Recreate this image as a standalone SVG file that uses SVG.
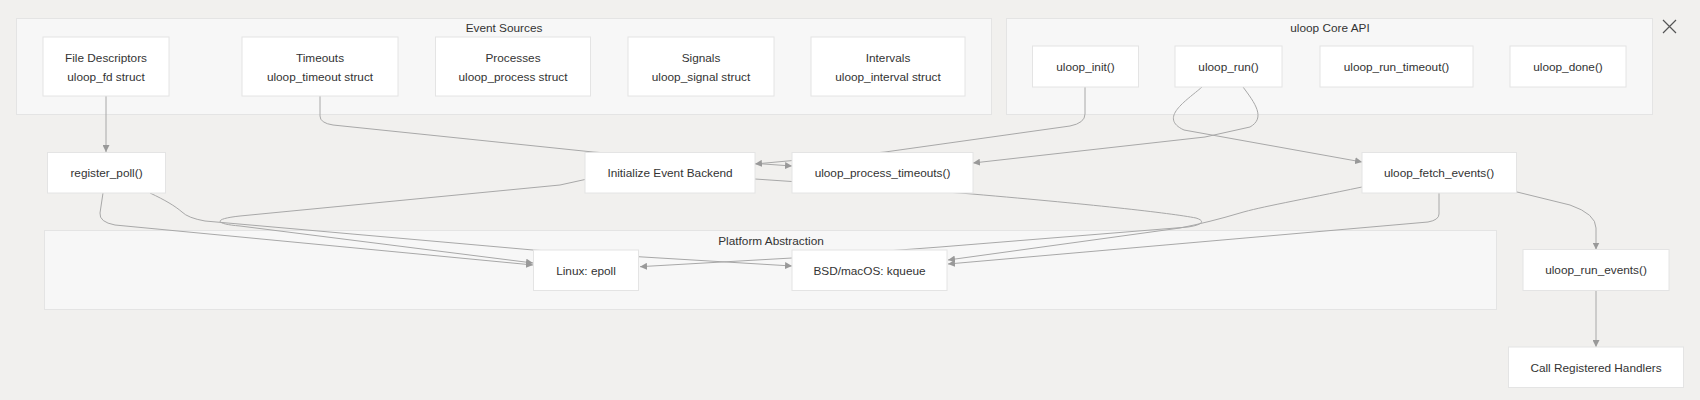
<svg xmlns="http://www.w3.org/2000/svg" width="1700" height="400" viewBox="0 0 1700 400">
<style>
.bg{fill:#f1f0ee}
.cl{fill:#f7f7f7;stroke:#e4e4e4;stroke-width:1}
.nd{fill:#ffffff;stroke:#e4e4e4;stroke-width:1}
.t{font-family:"Liberation Sans",Arial,sans-serif;font-size:11.8px;fill:#333333;text-anchor:middle}
.e{fill:none;stroke:#a8a8a8;stroke-width:1}
</style>
<defs>
<marker id="ah" viewBox="0 0 10 10" refX="10" refY="5" markerWidth="7" markerHeight="7" markerUnits="userSpaceOnUse" orient="auto">
<path d="M0,0 L10,5 L0,10 z" fill="#999999"/>
</marker>
</defs>
<rect class="bg" x="0" y="0" width="1700" height="400"/>

<g id="clusters">
<g id="cluster-event-sources">
<rect class="cl" x="16.5" y="18.5" width="975" height="96"/>
<text class="t" x="504" y="32">Event Sources</text>
</g>
<g id="cluster-core-api">
<rect class="cl" x="1006.5" y="18.5" width="646" height="96"/>
<text class="t" x="1330" y="32">uloop Core API</text>
</g>
<g id="cluster-platform">
<rect class="cl" x="44.5" y="230.5" width="1452" height="79"/>
<text class="t" x="771" y="245">Platform Abstraction</text>
</g>
</g>

<g id="connectors">
<path class="e" marker-end="url(#ah)" d="M106,96 L106,152"/>
<path class="e" marker-end="url(#ah)" d="M320,96 L320,116 Q320,123 333,125 L593,152 L792,166"/>
<path class="e" marker-end="url(#ah)" d="M1085,87 L1085,114 Q1085,123 1070,126 L885,152 L755,164"/>
<path class="e" marker-end="url(#ah)" d="M1243,87 C1255,103 1266,118 1250,127 L1205,137 L973,163"/>
<path class="e" marker-end="url(#ah)" d="M1202,87 C1186,101 1158,118 1184,130 L1362,162"/>
<path class="e" marker-end="url(#ah)" d="M103,193 L100,213 Q99,222 115,225 L533,265"/>
<path class="e" marker-end="url(#ah)" d="M150,193 C165,200 175,206 182,212 Q188,218 205,221 L533,250 L638,256.7 L792,266"/>
<path class="e" marker-end="url(#ah)" d="M585,179.5 L560,185 L240,216 C212,219 215,224 240,226 L533,263"/>
<path class="e" marker-end="url(#ah)" d="M755,179 L960,193 C1090,204 1170,213 1196,218 C1206,221 1202,225 1188,227 L940,247 L792,258 L640,266.7"/>
<path class="e" marker-end="url(#ah)" d="M1362,187 C1300,200 1260,207 1240,213 C1220,219 1200,224 1180,228 L948,260"/>
<path class="e" marker-end="url(#ah)" d="M1439,193 L1439,214 Q1439,220 1428,222 L948,264"/>
<path class="e" marker-end="url(#ah)" d="M1517,192 L1570,205 Q1596,214 1596,228 L1596,249.5"/>
<path class="e" marker-end="url(#ah)" d="M1596,290.5 L1596,347"/>
</g>

<g id="node-fd"><rect class="nd" x="43" y="37" width="126" height="59"/><text class="t" x="106" y="62">File Descriptors</text><text class="t" x="106" y="81">uloop_fd struct</text></g>
<g id="node-timeouts"><rect class="nd" x="242" y="37" width="156" height="59"/><text class="t" x="320" y="62">Timeouts</text><text class="t" x="320" y="81">uloop_timeout struct</text></g>
<g id="node-processes"><rect class="nd" x="435.5" y="37" width="155" height="59"/><text class="t" x="513" y="62">Processes</text><text class="t" x="513" y="81">uloop_process struct</text></g>
<g id="node-signals"><rect class="nd" x="628" y="37" width="146" height="59"/><text class="t" x="701" y="62">Signals</text><text class="t" x="701" y="81">uloop_signal struct</text></g>
<g id="node-intervals"><rect class="nd" x="811" y="37" width="154" height="59"/><text class="t" x="888" y="62">Intervals</text><text class="t" x="888" y="81">uloop_interval struct</text></g>

<g id="node-init"><rect class="nd" x="1032.5" y="46" width="106" height="41"/><text class="t" x="1085.5" y="70.5">uloop_init()</text></g>
<g id="node-run"><rect class="nd" x="1175" y="46" width="107" height="41"/><text class="t" x="1228.5" y="70.5">uloop_run()</text></g>
<g id="node-run-timeout"><rect class="nd" x="1320" y="46" width="153" height="41"/><text class="t" x="1396.5" y="70.5">uloop_run_timeout()</text></g>
<g id="node-done"><rect class="nd" x="1510" y="46" width="116" height="41"/><text class="t" x="1568" y="70.5">uloop_done()</text></g>

<g id="node-register-poll"><rect class="nd" x="47.5" y="152.5" width="118" height="40.5"/><text class="t" x="106.5" y="177">register_poll()</text></g>
<g id="node-init-backend"><rect class="nd" x="585" y="152.5" width="170" height="40.5"/><text class="t" x="670" y="177">Initialize Event Backend</text></g>
<g id="node-process-timeouts"><rect class="nd" x="792" y="152.5" width="181" height="40.5"/><text class="t" x="882.5" y="177">uloop_process_timeouts()</text></g>
<g id="node-fetch-events"><rect class="nd" x="1362" y="152.5" width="154.5" height="40.5"/><text class="t" x="1439" y="177">uloop_fetch_events()</text></g>

<g id="node-epoll"><rect class="nd" x="533.5" y="250" width="105" height="40.5"/><text class="t" x="586" y="274.5">Linux: epoll</text></g>
<g id="node-kqueue"><rect class="nd" x="792" y="250" width="155" height="40.5"/><text class="t" x="869.5" y="274.5">BSD/macOS: kqueue</text></g>
<g id="node-run-events"><rect class="nd" x="1523" y="249.5" width="146" height="41"/><text class="t" x="1596" y="274">uloop_run_events()</text></g>
<g id="node-handlers"><rect class="nd" x="1508.5" y="347" width="175" height="40.5"/><text class="t" x="1596" y="371.5">Call Registered Handlers</text></g>

<g id="close-icon" stroke="#555555" stroke-width="1.2" fill="none">
<path d="M1663,20 L1676,33 M1676,20 L1663,33"/>
</g>
</svg>
